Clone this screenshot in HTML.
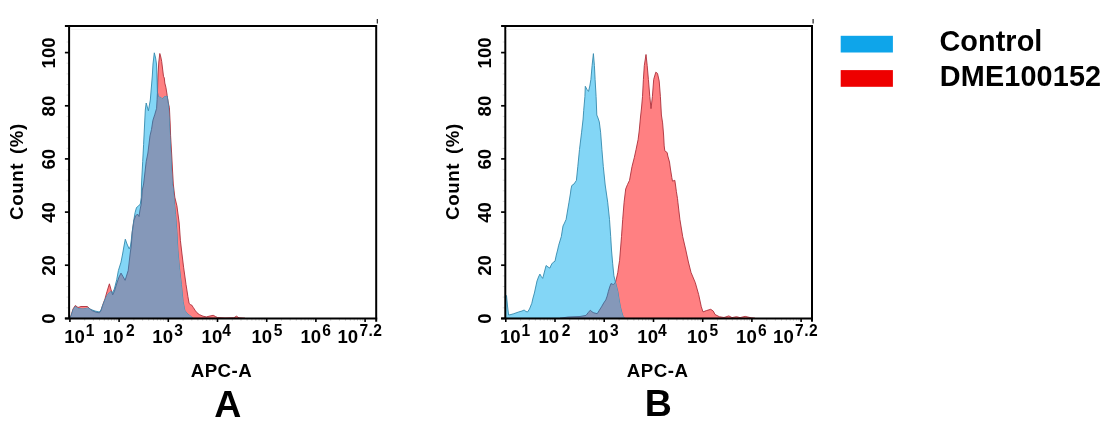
<!DOCTYPE html>
<html><head><meta charset="utf-8"><title>Flow cytometry</title>
<style>
html,body{margin:0;padding:0;background:#fff;}
body{width:1117px;height:436px;overflow:hidden;font-family:"Liberation Sans",sans-serif;}
svg{display:block;}
text{font-family:"Liberation Sans",sans-serif;font-weight:bold;fill:#000;filter:grayscale(1);}
.tk{font-size:18.6px;}
.sp{font-size:15.6px;}
.yt{font-size:18.7px;letter-spacing:0.6px;word-spacing:3.2px;}
.xt{font-size:18.7px;letter-spacing:0.5px;}
.big{font-size:37.5px;}
.lg{font-size:28.8px;}
</style></head><body>
<svg width="1117" height="436" viewBox="0 0 1117 436">
<rect width="1117" height="436" fill="#fff"/>
<g id="plotA">
<clipPath id="cbA"><polygon points="69.6,318.3 71,316 73,310 75.3,306.5 78,308.5 83,309 88,308 91,309.5 95,311 99.4,312 101,310 103,304.5 105,299.6 107.5,294.8 110,291.8 112.7,292.3 114.3,289.1 116.7,279.8 118.4,270.5 121,262.2 122.6,254 124,246 125.3,239.2 127,244 129.2,248.9 130.5,246 131.3,240 132.2,231.6 133.9,219.6 135.1,212.5 136.5,207.5 138.5,206 140.3,204 141.3,197.2 141.5,184 142.7,161.6 143.6,144.4 144.6,124 145.3,110 146.2,103 147.3,107 148.4,110.8 150.3,100 151.3,88 152.3,76 153.0,64 154.3,52.8 155.6,58 156.5,64 157.1,80 157.4,92 158.5,97 161,97.5 162.5,99 164,97 167,96 167.8,100 168.6,108 169,115 169.5,125 169.9,135.8 170.8,153 171.6,170 172.4,184 173.4,190 173.9,197.2 175.6,214.4 176.9,231.6 177.9,250 179.4,267.2 181.4,284.4 183.1,301.6 184.8,310.3 187,313.5 190.8,316.3 193,318.3"/></clipPath>
<polygon points="69.6,318.3 71,315.5 73,309 75.3,305.5 78,307.5 81,306.5 84,306.5 87.4,306.5 90,309 92.5,310.8 96,312.2 99.4,312.8 101,310.5 102.4,306 103.8,302 104.9,299.2 107,291.5 109.4,283.8 111,289.5 112.7,294.8 114.5,291 116.6,284 119,277 121,273.1 123,276.5 125.1,280.3 126.8,275 128.2,270.5 129.2,262 130.1,254 131.2,246 132.3,232 133.9,220.5 135.5,216 137.5,214 139,216.5 140,210 141.2,204 141.8,197 142.3,190 143.6,184 146.2,161.6 147.9,153 150,135.8 151.5,129.4 152.9,120.3 154.7,114.8 156.6,108.3 157.1,99.5 157.5,91 158,75 158.8,62 159.8,53.5 160.8,57 161.7,61.5 162.6,69 163.5,76.3 164.3,78 164.8,83 165.9,87.3 167.2,95.5 168.3,103 169.4,107.5 170.2,124 170.6,135.8 171.6,153 172.5,170 173.3,184 174.8,197.2 176.9,205.8 179.2,223 180.4,240.3 181.5,250 183.6,267.2 186,284.4 187.9,296.5 189.1,303.4 190.3,304.5 191.7,305.1 193.3,307.5 195.1,310.3 197,312.8 199.4,314.6 203,316.2 206.3,316.9 210,316 213.2,315.3 215.5,316.5 217.5,317.6 225,318 233.9,317.8 236.4,316.2 239,317.8 245,318.3" fill="#ff8082" stroke="#ad2f3a" stroke-width="0.9" stroke-linejoin="round"/>
<polygon points="69.6,318.3 71,316 73,310 75.3,306.5 78,308.5 83,309 88,308 91,309.5 95,311 99.4,312 101,310 103,304.5 105,299.6 107.5,294.8 110,291.8 112.7,292.3 114.3,289.1 116.7,279.8 118.4,270.5 121,262.2 122.6,254 124,246 125.3,239.2 127,244 129.2,248.9 130.5,246 131.3,240 132.2,231.6 133.9,219.6 135.1,212.5 136.5,207.5 138.5,206 140.3,204 141.3,197.2 141.5,184 142.7,161.6 143.6,144.4 144.6,124 145.3,110 146.2,103 147.3,107 148.4,110.8 150.3,100 151.3,88 152.3,76 153.0,64 154.3,52.8 155.6,58 156.5,64 157.1,80 157.4,92 158.5,97 161,97.5 162.5,99 164,97 167,96 167.8,100 168.6,108 169,115 169.5,125 169.9,135.8 170.8,153 171.6,170 172.4,184 173.4,190 173.9,197.2 175.6,214.4 176.9,231.6 177.9,250 179.4,267.2 181.4,284.4 183.1,301.6 184.8,310.3 187,313.5 190.8,316.3 193,318.3" fill="#83d6f6" stroke="#348aae" stroke-width="0.9" stroke-linejoin="round"/>
<g clip-path="url(#cbA)"><polygon points="69.6,318.3 71,315.5 73,309 75.3,305.5 78,307.5 81,306.5 84,306.5 87.4,306.5 90,309 92.5,310.8 96,312.2 99.4,312.8 101,310.5 102.4,306 103.8,302 104.9,299.2 107,291.5 109.4,283.8 111,289.5 112.7,294.8 114.5,291 116.6,284 119,277 121,273.1 123,276.5 125.1,280.3 126.8,275 128.2,270.5 129.2,262 130.1,254 131.2,246 132.3,232 133.9,220.5 135.5,216 137.5,214 139,216.5 140,210 141.2,204 141.8,197 142.3,190 143.6,184 146.2,161.6 147.9,153 150,135.8 151.5,129.4 152.9,120.3 154.7,114.8 156.6,108.3 157.1,99.5 157.5,91 158,75 158.8,62 159.8,53.5 160.8,57 161.7,61.5 162.6,69 163.5,76.3 164.3,78 164.8,83 165.9,87.3 167.2,95.5 168.3,103 169.4,107.5 170.2,124 170.6,135.8 171.6,153 172.5,170 173.3,184 174.8,197.2 176.9,205.8 179.2,223 180.4,240.3 181.5,250 183.6,267.2 186,284.4 187.9,296.5 189.1,303.4 190.3,304.5 191.7,305.1 193.3,307.5 195.1,310.3 197,312.8 199.4,314.6 203,316.2 206.3,316.9 210,316 213.2,315.3 215.5,316.5 217.5,317.6 225,318 233.9,317.8 236.4,316.2 239,317.8 245,318.3" fill="#8598b9" stroke="#4a6690" stroke-width="0.9" stroke-linejoin="round"/></g>
<line x1="64.9" y1="318.4" x2="69.1" y2="318.4" stroke="#000" stroke-width="1.7"/>
<line x1="66.5" y1="307.8" x2="69.1" y2="307.8" stroke="#ddd" stroke-width="1"/>
<line x1="66.5" y1="297.1" x2="69.1" y2="297.1" stroke="#ddd" stroke-width="1"/>
<line x1="66.5" y1="286.5" x2="69.1" y2="286.5" stroke="#ddd" stroke-width="1"/>
<line x1="66.5" y1="275.9" x2="69.1" y2="275.9" stroke="#ddd" stroke-width="1"/>
<line x1="64.9" y1="265.2" x2="69.1" y2="265.2" stroke="#000" stroke-width="1.7"/>
<line x1="66.5" y1="254.6" x2="69.1" y2="254.6" stroke="#ddd" stroke-width="1"/>
<line x1="66.5" y1="244.0" x2="69.1" y2="244.0" stroke="#ddd" stroke-width="1"/>
<line x1="66.5" y1="233.3" x2="69.1" y2="233.3" stroke="#ddd" stroke-width="1"/>
<line x1="66.5" y1="222.7" x2="69.1" y2="222.7" stroke="#ddd" stroke-width="1"/>
<line x1="64.9" y1="212.1" x2="69.1" y2="212.1" stroke="#000" stroke-width="1.7"/>
<line x1="66.5" y1="201.4" x2="69.1" y2="201.4" stroke="#ddd" stroke-width="1"/>
<line x1="66.5" y1="190.8" x2="69.1" y2="190.8" stroke="#ddd" stroke-width="1"/>
<line x1="66.5" y1="180.2" x2="69.1" y2="180.2" stroke="#ddd" stroke-width="1"/>
<line x1="66.5" y1="169.6" x2="69.1" y2="169.6" stroke="#ddd" stroke-width="1"/>
<line x1="64.9" y1="158.9" x2="69.1" y2="158.9" stroke="#000" stroke-width="1.7"/>
<line x1="66.5" y1="148.3" x2="69.1" y2="148.3" stroke="#ddd" stroke-width="1"/>
<line x1="66.5" y1="137.7" x2="69.1" y2="137.7" stroke="#ddd" stroke-width="1"/>
<line x1="66.5" y1="127.0" x2="69.1" y2="127.0" stroke="#ddd" stroke-width="1"/>
<line x1="66.5" y1="116.4" x2="69.1" y2="116.4" stroke="#ddd" stroke-width="1"/>
<line x1="64.9" y1="105.8" x2="69.1" y2="105.8" stroke="#000" stroke-width="1.7"/>
<line x1="66.5" y1="95.1" x2="69.1" y2="95.1" stroke="#ddd" stroke-width="1"/>
<line x1="66.5" y1="84.5" x2="69.1" y2="84.5" stroke="#ddd" stroke-width="1"/>
<line x1="66.5" y1="73.9" x2="69.1" y2="73.9" stroke="#ddd" stroke-width="1"/>
<line x1="66.5" y1="63.2" x2="69.1" y2="63.2" stroke="#ddd" stroke-width="1"/>
<line x1="64.9" y1="52.6" x2="69.1" y2="52.6" stroke="#000" stroke-width="1.7"/>
<line x1="66.5" y1="42.0" x2="69.1" y2="42.0" stroke="#ddd" stroke-width="1"/>
<line x1="69.9" y1="318.4" x2="69.9" y2="322.0" stroke="#000" stroke-width="1.6"/>
<line x1="84.7" y1="318.4" x2="84.7" y2="320.8" stroke="#d4d4d4" stroke-width="1"/>
<line x1="93.4" y1="318.4" x2="93.4" y2="320.8" stroke="#d4d4d4" stroke-width="1"/>
<line x1="99.5" y1="318.4" x2="99.5" y2="320.8" stroke="#d4d4d4" stroke-width="1"/>
<line x1="104.3" y1="318.4" x2="104.3" y2="320.8" stroke="#d4d4d4" stroke-width="1"/>
<line x1="108.2" y1="318.4" x2="108.2" y2="320.8" stroke="#d4d4d4" stroke-width="1"/>
<line x1="111.5" y1="318.4" x2="111.5" y2="320.8" stroke="#d4d4d4" stroke-width="1"/>
<line x1="114.3" y1="318.4" x2="114.3" y2="320.8" stroke="#d4d4d4" stroke-width="1"/>
<line x1="116.8" y1="318.4" x2="116.8" y2="320.8" stroke="#d4d4d4" stroke-width="1"/>
<line x1="119.1" y1="318.4" x2="119.1" y2="322.0" stroke="#000" stroke-width="1.6"/>
<line x1="133.9" y1="318.4" x2="133.9" y2="320.8" stroke="#d4d4d4" stroke-width="1"/>
<line x1="142.6" y1="318.4" x2="142.6" y2="320.8" stroke="#d4d4d4" stroke-width="1"/>
<line x1="148.7" y1="318.4" x2="148.7" y2="320.8" stroke="#d4d4d4" stroke-width="1"/>
<line x1="153.5" y1="318.4" x2="153.5" y2="320.8" stroke="#d4d4d4" stroke-width="1"/>
<line x1="157.4" y1="318.4" x2="157.4" y2="320.8" stroke="#d4d4d4" stroke-width="1"/>
<line x1="160.7" y1="318.4" x2="160.7" y2="320.8" stroke="#d4d4d4" stroke-width="1"/>
<line x1="163.5" y1="318.4" x2="163.5" y2="320.8" stroke="#d4d4d4" stroke-width="1"/>
<line x1="166.0" y1="318.4" x2="166.0" y2="320.8" stroke="#d4d4d4" stroke-width="1"/>
<line x1="168.3" y1="318.4" x2="168.3" y2="322.0" stroke="#000" stroke-width="1.6"/>
<line x1="183.1" y1="318.4" x2="183.1" y2="320.8" stroke="#d4d4d4" stroke-width="1"/>
<line x1="191.8" y1="318.4" x2="191.8" y2="320.8" stroke="#d4d4d4" stroke-width="1"/>
<line x1="197.9" y1="318.4" x2="197.9" y2="320.8" stroke="#d4d4d4" stroke-width="1"/>
<line x1="202.7" y1="318.4" x2="202.7" y2="320.8" stroke="#d4d4d4" stroke-width="1"/>
<line x1="206.6" y1="318.4" x2="206.6" y2="320.8" stroke="#d4d4d4" stroke-width="1"/>
<line x1="209.9" y1="318.4" x2="209.9" y2="320.8" stroke="#d4d4d4" stroke-width="1"/>
<line x1="212.7" y1="318.4" x2="212.7" y2="320.8" stroke="#d4d4d4" stroke-width="1"/>
<line x1="215.2" y1="318.4" x2="215.2" y2="320.8" stroke="#d4d4d4" stroke-width="1"/>
<line x1="217.5" y1="318.4" x2="217.5" y2="322.0" stroke="#000" stroke-width="1.6"/>
<line x1="232.3" y1="318.4" x2="232.3" y2="320.8" stroke="#d4d4d4" stroke-width="1"/>
<line x1="241.0" y1="318.4" x2="241.0" y2="320.8" stroke="#d4d4d4" stroke-width="1"/>
<line x1="247.1" y1="318.4" x2="247.1" y2="320.8" stroke="#d4d4d4" stroke-width="1"/>
<line x1="251.9" y1="318.4" x2="251.9" y2="320.8" stroke="#d4d4d4" stroke-width="1"/>
<line x1="255.8" y1="318.4" x2="255.8" y2="320.8" stroke="#d4d4d4" stroke-width="1"/>
<line x1="259.1" y1="318.4" x2="259.1" y2="320.8" stroke="#d4d4d4" stroke-width="1"/>
<line x1="261.9" y1="318.4" x2="261.9" y2="320.8" stroke="#d4d4d4" stroke-width="1"/>
<line x1="264.4" y1="318.4" x2="264.4" y2="320.8" stroke="#d4d4d4" stroke-width="1"/>
<line x1="266.7" y1="318.4" x2="266.7" y2="322.0" stroke="#000" stroke-width="1.6"/>
<line x1="281.5" y1="318.4" x2="281.5" y2="320.8" stroke="#d4d4d4" stroke-width="1"/>
<line x1="290.2" y1="318.4" x2="290.2" y2="320.8" stroke="#d4d4d4" stroke-width="1"/>
<line x1="296.3" y1="318.4" x2="296.3" y2="320.8" stroke="#d4d4d4" stroke-width="1"/>
<line x1="301.1" y1="318.4" x2="301.1" y2="320.8" stroke="#d4d4d4" stroke-width="1"/>
<line x1="305.0" y1="318.4" x2="305.0" y2="320.8" stroke="#d4d4d4" stroke-width="1"/>
<line x1="308.3" y1="318.4" x2="308.3" y2="320.8" stroke="#d4d4d4" stroke-width="1"/>
<line x1="311.1" y1="318.4" x2="311.1" y2="320.8" stroke="#d4d4d4" stroke-width="1"/>
<line x1="313.6" y1="318.4" x2="313.6" y2="320.8" stroke="#d4d4d4" stroke-width="1"/>
<line x1="315.9" y1="318.4" x2="315.9" y2="322.0" stroke="#000" stroke-width="1.6"/>
<line x1="330.7" y1="318.4" x2="330.7" y2="320.8" stroke="#d4d4d4" stroke-width="1"/>
<line x1="339.4" y1="318.4" x2="339.4" y2="320.8" stroke="#d4d4d4" stroke-width="1"/>
<line x1="345.5" y1="318.4" x2="345.5" y2="320.8" stroke="#d4d4d4" stroke-width="1"/>
<line x1="350.3" y1="318.4" x2="350.3" y2="320.8" stroke="#d4d4d4" stroke-width="1"/>
<line x1="354.2" y1="318.4" x2="354.2" y2="320.8" stroke="#d4d4d4" stroke-width="1"/>
<line x1="357.5" y1="318.4" x2="357.5" y2="320.8" stroke="#d4d4d4" stroke-width="1"/>
<line x1="360.3" y1="318.4" x2="360.3" y2="320.8" stroke="#d4d4d4" stroke-width="1"/>
<line x1="362.8" y1="318.4" x2="362.8" y2="320.8" stroke="#d4d4d4" stroke-width="1"/>
<line x1="365.1" y1="318.4" x2="365.1" y2="322.0" stroke="#000" stroke-width="1.6"/>
<path d="M64.9,26.0 H376.2 V321.8" fill="none" stroke="#000" stroke-width="2"/>
<path d="M69.1,26.0 V318.4 M64.9,318.4 H377.2" fill="none" stroke="#000" stroke-width="2"/>
<line x1="377.3" y1="18.9" x2="377.3" y2="23.6" stroke="#111" stroke-width="1.1"/>
<line x1="70.1" y1="29.4" x2="372.2" y2="29.4" stroke="#ececec" stroke-width="0.8"/>
<text transform="translate(55.2,318.7) rotate(-90)" text-anchor="middle" class="tk">0</text>
<text transform="translate(55.2,265.5) rotate(-90)" text-anchor="middle" class="tk">20</text>
<text transform="translate(55.2,212.4) rotate(-90)" text-anchor="middle" class="tk">40</text>
<text transform="translate(55.2,159.2) rotate(-90)" text-anchor="middle" class="tk">60</text>
<text transform="translate(55.2,106.1) rotate(-90)" text-anchor="middle" class="tk">80</text>
<text transform="translate(55.2,52.9) rotate(-90)" text-anchor="middle" class="tk">100</text>
<text transform="translate(22.6,171.5) rotate(-90)" text-anchor="middle" class="yt" >Count (%)</text>
<text x="64.2" y="343.3" class="tk">10</text>
<text x="85.7" y="336" class="sp">1</text>
<text x="102.8" y="343.3" class="tk">10</text>
<text x="126.0" y="336" class="sp">2</text>
<text x="152.3" y="343.3" class="tk">10</text>
<text x="174.3" y="336" class="sp">3</text>
<text x="201.6" y="343.3" class="tk">10</text>
<text x="222.2" y="336" class="sp">4</text>
<text x="251.4" y="343.3" class="tk">10</text>
<text x="273.8" y="336" class="sp">5</text>
<text x="300.4" y="343.3" class="tk">10</text>
<text x="322.3" y="336" class="sp">6</text>
<text x="337.4" y="343.3" class="tk">10</text>
<text x="359.4" y="336" class="sp" style="letter-spacing:0.45px">7.2</text>
<text x="221.5" y="376.6" text-anchor="middle" class="xt">APC-A</text>
</g>
<g id="plotB">
<clipPath id="cbB"><polygon points="505.5,318.3 505.5,295 506.5,295.6 507.5,306 508.6,315 511,314.5 513.8,313.7 518.9,311.9 522,311 524.1,310 526,311.5 527.5,312 529.5,309 531.8,303.3 533,298 534.4,293 535.7,287 537,281 538.5,277 539.9,274.1 541.3,276.5 542.7,278.4 544.4,272 546.1,265.5 548,267 549.9,268.1 551.2,265 552.5,262.9 555,261.2 556.3,255 557.6,250 558.7,245.2 561.3,236.6 563,226 564.5,223 566.1,219.4 567.5,211 569,202.2 570.5,193 571,189 571.8,185.5 574,184 576.4,180.4 577.8,166.6 579.5,149.4 581.6,132.2 583.1,119 583.7,110.4 584.9,96.6 585.3,86.3 587,89.5 588.5,91.4 589.8,86 590.9,79.4 592.1,65.6 593.4,53.6 594.4,65.6 595.1,79.4 596.1,96.6 596.8,115 598,118 599.3,121.9 600.6,132.2 601.9,149.4 603.3,166.6 605.2,185 607.7,202.2 609.5,219.4 610.7,236.6 611.5,250 612.7,263.8 613.9,275.8 615.6,282.7 617.8,291.3 619,299 620.4,306.8 621.7,312 623,316.2 624.5,318.3"/></clipPath>
<polygon points="560,318.3 568,317 580,316.5 586,315.4 588.3,312.5 590.3,310.2 592,311.8 593.8,312.8 597.2,313.7 599.5,310 601.5,306.8 603.7,303 605.8,299.9 607.2,296 608.4,291.3 609.7,287 611,283.5 612.3,284.2 613.5,284.4 614.6,283.5 615.6,281.8 616.8,277 617.8,272.4 618.7,266 619.6,260.3 621.5,236.6 622.7,219.4 624.1,202.2 625.7,189 627.5,184.5 629.5,180.4 632,166.6 634.3,157.6 636.1,149.3 638.1,139.6 639.2,131 640.5,117 641.5,108 642.5,96.6 643.4,79.4 644.3,65.6 646,54.5 647.2,65.6 648.4,79.4 649.8,96.6 651,108.6 652.4,96.6 653.7,79.4 655.8,72.2 657.5,73.4 659.2,81.1 660.4,96.6 661.4,115 662.6,122.9 663.6,135 664.2,145.9 664.8,150.8 667.2,152.6 667.8,156 669.5,162 670.3,168 671.8,177.5 672.5,181.2 674.8,180.3 675.5,185 676.4,191.7 677.5,198.6 677.9,202.2 679.9,219.4 682.7,236.6 685.8,250 688.4,262 691,272.4 695.3,282.7 698.7,294.7 701.3,306.8 703,311.9 706.4,310.6 710.7,309.3 713.3,311.1 715,314.5 719.3,316.7 724,317.5 728.8,315.9 732,317.6 736.5,316.7 740,317.6 745.2,316.4 751.2,317.8 755,318.3" fill="#ff8082" stroke="#ad2f3a" stroke-width="0.9" stroke-linejoin="round"/>
<polygon points="505.5,318.3 505.5,295 506.5,295.6 507.5,306 508.6,315 511,314.5 513.8,313.7 518.9,311.9 522,311 524.1,310 526,311.5 527.5,312 529.5,309 531.8,303.3 533,298 534.4,293 535.7,287 537,281 538.5,277 539.9,274.1 541.3,276.5 542.7,278.4 544.4,272 546.1,265.5 548,267 549.9,268.1 551.2,265 552.5,262.9 555,261.2 556.3,255 557.6,250 558.7,245.2 561.3,236.6 563,226 564.5,223 566.1,219.4 567.5,211 569,202.2 570.5,193 571,189 571.8,185.5 574,184 576.4,180.4 577.8,166.6 579.5,149.4 581.6,132.2 583.1,119 583.7,110.4 584.9,96.6 585.3,86.3 587,89.5 588.5,91.4 589.8,86 590.9,79.4 592.1,65.6 593.4,53.6 594.4,65.6 595.1,79.4 596.1,96.6 596.8,115 598,118 599.3,121.9 600.6,132.2 601.9,149.4 603.3,166.6 605.2,185 607.7,202.2 609.5,219.4 610.7,236.6 611.5,250 612.7,263.8 613.9,275.8 615.6,282.7 617.8,291.3 619,299 620.4,306.8 621.7,312 623,316.2 624.5,318.3" fill="#83d6f6" stroke="#348aae" stroke-width="0.9" stroke-linejoin="round"/>
<g clip-path="url(#cbB)"><polygon points="560,318.3 568,317 580,316.5 586,315.4 588.3,312.5 590.3,310.2 592,311.8 593.8,312.8 597.2,313.7 599.5,310 601.5,306.8 603.7,303 605.8,299.9 607.2,296 608.4,291.3 609.7,287 611,283.5 612.3,284.2 613.5,284.4 614.6,283.5 615.6,281.8 616.8,277 617.8,272.4 618.7,266 619.6,260.3 621.5,236.6 622.7,219.4 624.1,202.2 625.7,189 627.5,184.5 629.5,180.4 632,166.6 634.3,157.6 636.1,149.3 638.1,139.6 639.2,131 640.5,117 641.5,108 642.5,96.6 643.4,79.4 644.3,65.6 646,54.5 647.2,65.6 648.4,79.4 649.8,96.6 651,108.6 652.4,96.6 653.7,79.4 655.8,72.2 657.5,73.4 659.2,81.1 660.4,96.6 661.4,115 662.6,122.9 663.6,135 664.2,145.9 664.8,150.8 667.2,152.6 667.8,156 669.5,162 670.3,168 671.8,177.5 672.5,181.2 674.8,180.3 675.5,185 676.4,191.7 677.5,198.6 677.9,202.2 679.9,219.4 682.7,236.6 685.8,250 688.4,262 691,272.4 695.3,282.7 698.7,294.7 701.3,306.8 703,311.9 706.4,310.6 710.7,309.3 713.3,311.1 715,314.5 719.3,316.7 724,317.5 728.8,315.9 732,317.6 736.5,316.7 740,317.6 745.2,316.4 751.2,317.8 755,318.3" fill="#8598b9" stroke="#4a6690" stroke-width="0.9" stroke-linejoin="round"/></g>
<line x1="501.1" y1="318.4" x2="505.3" y2="318.4" stroke="#000" stroke-width="1.7"/>
<line x1="502.7" y1="307.8" x2="505.3" y2="307.8" stroke="#ddd" stroke-width="1"/>
<line x1="502.7" y1="297.1" x2="505.3" y2="297.1" stroke="#ddd" stroke-width="1"/>
<line x1="502.7" y1="286.5" x2="505.3" y2="286.5" stroke="#ddd" stroke-width="1"/>
<line x1="502.7" y1="275.9" x2="505.3" y2="275.9" stroke="#ddd" stroke-width="1"/>
<line x1="501.1" y1="265.2" x2="505.3" y2="265.2" stroke="#000" stroke-width="1.7"/>
<line x1="502.7" y1="254.6" x2="505.3" y2="254.6" stroke="#ddd" stroke-width="1"/>
<line x1="502.7" y1="244.0" x2="505.3" y2="244.0" stroke="#ddd" stroke-width="1"/>
<line x1="502.7" y1="233.3" x2="505.3" y2="233.3" stroke="#ddd" stroke-width="1"/>
<line x1="502.7" y1="222.7" x2="505.3" y2="222.7" stroke="#ddd" stroke-width="1"/>
<line x1="501.1" y1="212.1" x2="505.3" y2="212.1" stroke="#000" stroke-width="1.7"/>
<line x1="502.7" y1="201.4" x2="505.3" y2="201.4" stroke="#ddd" stroke-width="1"/>
<line x1="502.7" y1="190.8" x2="505.3" y2="190.8" stroke="#ddd" stroke-width="1"/>
<line x1="502.7" y1="180.2" x2="505.3" y2="180.2" stroke="#ddd" stroke-width="1"/>
<line x1="502.7" y1="169.6" x2="505.3" y2="169.6" stroke="#ddd" stroke-width="1"/>
<line x1="501.1" y1="158.9" x2="505.3" y2="158.9" stroke="#000" stroke-width="1.7"/>
<line x1="502.7" y1="148.3" x2="505.3" y2="148.3" stroke="#ddd" stroke-width="1"/>
<line x1="502.7" y1="137.7" x2="505.3" y2="137.7" stroke="#ddd" stroke-width="1"/>
<line x1="502.7" y1="127.0" x2="505.3" y2="127.0" stroke="#ddd" stroke-width="1"/>
<line x1="502.7" y1="116.4" x2="505.3" y2="116.4" stroke="#ddd" stroke-width="1"/>
<line x1="501.1" y1="105.8" x2="505.3" y2="105.8" stroke="#000" stroke-width="1.7"/>
<line x1="502.7" y1="95.1" x2="505.3" y2="95.1" stroke="#ddd" stroke-width="1"/>
<line x1="502.7" y1="84.5" x2="505.3" y2="84.5" stroke="#ddd" stroke-width="1"/>
<line x1="502.7" y1="73.9" x2="505.3" y2="73.9" stroke="#ddd" stroke-width="1"/>
<line x1="502.7" y1="63.2" x2="505.3" y2="63.2" stroke="#ddd" stroke-width="1"/>
<line x1="501.1" y1="52.6" x2="505.3" y2="52.6" stroke="#000" stroke-width="1.7"/>
<line x1="502.7" y1="42.0" x2="505.3" y2="42.0" stroke="#ddd" stroke-width="1"/>
<line x1="505.8" y1="318.4" x2="505.8" y2="322.0" stroke="#000" stroke-width="1.6"/>
<line x1="520.6" y1="318.4" x2="520.6" y2="320.8" stroke="#d4d4d4" stroke-width="1"/>
<line x1="529.3" y1="318.4" x2="529.3" y2="320.8" stroke="#d4d4d4" stroke-width="1"/>
<line x1="535.4" y1="318.4" x2="535.4" y2="320.8" stroke="#d4d4d4" stroke-width="1"/>
<line x1="540.2" y1="318.4" x2="540.2" y2="320.8" stroke="#d4d4d4" stroke-width="1"/>
<line x1="544.1" y1="318.4" x2="544.1" y2="320.8" stroke="#d4d4d4" stroke-width="1"/>
<line x1="547.4" y1="318.4" x2="547.4" y2="320.8" stroke="#d4d4d4" stroke-width="1"/>
<line x1="550.3" y1="318.4" x2="550.3" y2="320.8" stroke="#d4d4d4" stroke-width="1"/>
<line x1="552.8" y1="318.4" x2="552.8" y2="320.8" stroke="#d4d4d4" stroke-width="1"/>
<line x1="555.0" y1="318.4" x2="555.0" y2="322.0" stroke="#000" stroke-width="1.6"/>
<line x1="569.8" y1="318.4" x2="569.8" y2="320.8" stroke="#d4d4d4" stroke-width="1"/>
<line x1="578.5" y1="318.4" x2="578.5" y2="320.8" stroke="#d4d4d4" stroke-width="1"/>
<line x1="584.7" y1="318.4" x2="584.7" y2="320.8" stroke="#d4d4d4" stroke-width="1"/>
<line x1="589.4" y1="318.4" x2="589.4" y2="320.8" stroke="#d4d4d4" stroke-width="1"/>
<line x1="593.3" y1="318.4" x2="593.3" y2="320.8" stroke="#d4d4d4" stroke-width="1"/>
<line x1="596.6" y1="318.4" x2="596.6" y2="320.8" stroke="#d4d4d4" stroke-width="1"/>
<line x1="599.5" y1="318.4" x2="599.5" y2="320.8" stroke="#d4d4d4" stroke-width="1"/>
<line x1="602.0" y1="318.4" x2="602.0" y2="320.8" stroke="#d4d4d4" stroke-width="1"/>
<line x1="604.2" y1="318.4" x2="604.2" y2="322.0" stroke="#000" stroke-width="1.6"/>
<line x1="619.1" y1="318.4" x2="619.1" y2="320.8" stroke="#d4d4d4" stroke-width="1"/>
<line x1="627.7" y1="318.4" x2="627.7" y2="320.8" stroke="#d4d4d4" stroke-width="1"/>
<line x1="633.9" y1="318.4" x2="633.9" y2="320.8" stroke="#d4d4d4" stroke-width="1"/>
<line x1="638.6" y1="318.4" x2="638.6" y2="320.8" stroke="#d4d4d4" stroke-width="1"/>
<line x1="642.5" y1="318.4" x2="642.5" y2="320.8" stroke="#d4d4d4" stroke-width="1"/>
<line x1="645.8" y1="318.4" x2="645.8" y2="320.8" stroke="#d4d4d4" stroke-width="1"/>
<line x1="648.7" y1="318.4" x2="648.7" y2="320.8" stroke="#d4d4d4" stroke-width="1"/>
<line x1="651.2" y1="318.4" x2="651.2" y2="320.8" stroke="#d4d4d4" stroke-width="1"/>
<line x1="653.5" y1="318.4" x2="653.5" y2="322.0" stroke="#000" stroke-width="1.6"/>
<line x1="668.3" y1="318.4" x2="668.3" y2="320.8" stroke="#d4d4d4" stroke-width="1"/>
<line x1="676.9" y1="318.4" x2="676.9" y2="320.8" stroke="#d4d4d4" stroke-width="1"/>
<line x1="683.1" y1="318.4" x2="683.1" y2="320.8" stroke="#d4d4d4" stroke-width="1"/>
<line x1="687.9" y1="318.4" x2="687.9" y2="320.8" stroke="#d4d4d4" stroke-width="1"/>
<line x1="691.8" y1="318.4" x2="691.8" y2="320.8" stroke="#d4d4d4" stroke-width="1"/>
<line x1="695.1" y1="318.4" x2="695.1" y2="320.8" stroke="#d4d4d4" stroke-width="1"/>
<line x1="697.9" y1="318.4" x2="697.9" y2="320.8" stroke="#d4d4d4" stroke-width="1"/>
<line x1="700.4" y1="318.4" x2="700.4" y2="320.8" stroke="#d4d4d4" stroke-width="1"/>
<line x1="702.7" y1="318.4" x2="702.7" y2="322.0" stroke="#000" stroke-width="1.6"/>
<line x1="717.5" y1="318.4" x2="717.5" y2="320.8" stroke="#d4d4d4" stroke-width="1"/>
<line x1="726.2" y1="318.4" x2="726.2" y2="320.8" stroke="#d4d4d4" stroke-width="1"/>
<line x1="732.3" y1="318.4" x2="732.3" y2="320.8" stroke="#d4d4d4" stroke-width="1"/>
<line x1="737.1" y1="318.4" x2="737.1" y2="320.8" stroke="#d4d4d4" stroke-width="1"/>
<line x1="741.0" y1="318.4" x2="741.0" y2="320.8" stroke="#d4d4d4" stroke-width="1"/>
<line x1="744.3" y1="318.4" x2="744.3" y2="320.8" stroke="#d4d4d4" stroke-width="1"/>
<line x1="747.1" y1="318.4" x2="747.1" y2="320.8" stroke="#d4d4d4" stroke-width="1"/>
<line x1="749.6" y1="318.4" x2="749.6" y2="320.8" stroke="#d4d4d4" stroke-width="1"/>
<line x1="751.9" y1="318.4" x2="751.9" y2="322.0" stroke="#000" stroke-width="1.6"/>
<line x1="766.7" y1="318.4" x2="766.7" y2="320.8" stroke="#d4d4d4" stroke-width="1"/>
<line x1="775.4" y1="318.4" x2="775.4" y2="320.8" stroke="#d4d4d4" stroke-width="1"/>
<line x1="781.5" y1="318.4" x2="781.5" y2="320.8" stroke="#d4d4d4" stroke-width="1"/>
<line x1="786.3" y1="318.4" x2="786.3" y2="320.8" stroke="#d4d4d4" stroke-width="1"/>
<line x1="790.2" y1="318.4" x2="790.2" y2="320.8" stroke="#d4d4d4" stroke-width="1"/>
<line x1="793.5" y1="318.4" x2="793.5" y2="320.8" stroke="#d4d4d4" stroke-width="1"/>
<line x1="796.4" y1="318.4" x2="796.4" y2="320.8" stroke="#d4d4d4" stroke-width="1"/>
<line x1="798.9" y1="318.4" x2="798.9" y2="320.8" stroke="#d4d4d4" stroke-width="1"/>
<line x1="801.1" y1="318.4" x2="801.1" y2="322.0" stroke="#000" stroke-width="1.6"/>
<path d="M501.1,26.0 H812.0 V321.8" fill="none" stroke="#000" stroke-width="2"/>
<path d="M505.3,26.0 V318.4 M501.1,318.4 H813.0" fill="none" stroke="#000" stroke-width="2"/>
<line x1="813.1" y1="18.9" x2="813.1" y2="23.6" stroke="#111" stroke-width="1.1"/>
<line x1="506.3" y1="29.4" x2="808.0" y2="29.4" stroke="#ececec" stroke-width="0.8"/>
<text transform="translate(491.4,318.7) rotate(-90)" text-anchor="middle" class="tk">0</text>
<text transform="translate(491.4,265.5) rotate(-90)" text-anchor="middle" class="tk">20</text>
<text transform="translate(491.4,212.4) rotate(-90)" text-anchor="middle" class="tk">40</text>
<text transform="translate(491.4,159.2) rotate(-90)" text-anchor="middle" class="tk">60</text>
<text transform="translate(491.4,106.1) rotate(-90)" text-anchor="middle" class="tk">80</text>
<text transform="translate(491.4,52.9) rotate(-90)" text-anchor="middle" class="tk">100</text>
<text transform="translate(458.8,171.5) rotate(-90)" text-anchor="middle" class="yt" >Count (%)</text>
<text x="499.9" y="343.3" class="tk">10</text>
<text x="521.4" y="336" class="sp">1</text>
<text x="538.5" y="343.3" class="tk">10</text>
<text x="561.7" y="336" class="sp">2</text>
<text x="588.0" y="343.3" class="tk">10</text>
<text x="610.0" y="336" class="sp">3</text>
<text x="637.3" y="343.3" class="tk">10</text>
<text x="657.9" y="336" class="sp">4</text>
<text x="687.1" y="343.3" class="tk">10</text>
<text x="709.5" y="336" class="sp">5</text>
<text x="736.1" y="343.3" class="tk">10</text>
<text x="758.0" y="336" class="sp">6</text>
<text x="773.1" y="343.3" class="tk">10</text>
<text x="795.1" y="336" class="sp" style="letter-spacing:0.45px">7.2</text>
<text x="657.7" y="376.6" text-anchor="middle" class="xt">APC-A</text>
</g>
<text x="227.9" y="417" text-anchor="middle" class="big">A</text>
<text x="658.4" y="416.2" text-anchor="middle" class="big">B</text>
<rect x="840.7" y="35.8" width="52.2" height="16.7" fill="#0ea5ea"/>
<rect x="840.7" y="70.1" width="52.2" height="16.7" fill="#ee0000"/>
<text x="939.4" y="50.5" class="lg" style="letter-spacing:0.1px">Control</text>
<text x="939.8" y="85.6" class="lg" style="letter-spacing:0.15px">DME100152</text>
</svg>
</body></html>
